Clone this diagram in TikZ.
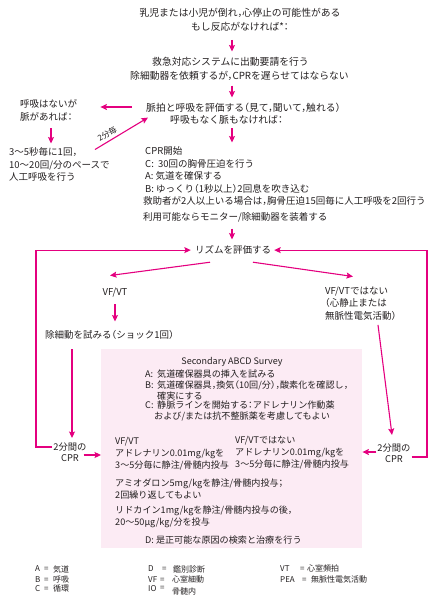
\documentclass[tikz,border=0pt]{standalone}
\usepackage{fontspec}
\setmainfont{Noto Sans CJK JP}[RawFeature=+halt]
\usetikzlibrary{arrows.meta,calc}
\definecolor{mag}{RGB}{228,0,127}
\definecolor{boxpink}{RGB}{252,235,244}
\definecolor{ink}{RGB}{35,31,32}
\begin{document}
\begin{tikzpicture}[x=1pt,y=-1pt,
  every node/.style={inner sep=0pt, text=ink, font=\fontsize{9.5}{12.5}\selectfont},
  arr/.style={draw=mag, line width=1.1pt, -{Stealth[length=6.5pt,width=6pt,inset=1.2pt]}},
  lft/.style={anchor=north west, align=left},
  ctr/.style={anchor=north, align=center},
  boxt/.style={anchor=north west, align=left, font=\fontsize{9.1}{11}\selectfont},
  leg/.style={anchor=base west, font=\fontsize{8}{10}\selectfont},
]
\useasboundingbox (0,0) rectangle (440,600);
% columns and rows for connectors
\coordinate (colA) at (232,0);
\coordinate (colL) at (51,0);
\coordinate (colV) at (115,0);
\coordinate (colLC) at (72,0);
\coordinate (rowP) at (0,107);
\coordinate (rowLC) at (0,455);
\coordinate (rowLCt) at (0,447);
\coordinate (rowRC) at (0,452);
\coordinate (rowRCb) at (0,457);
\coordinate (lx) at (36,350);
\coordinate (rx) at (427,350);

% pink box
\node[fill=boxpink, anchor=north west, minimum width=261pt, minimum height=199pt] (box) at (101,349) {};

% texts
\node[ctr, font=\fontsize{9.8}{14}\selectfont] (top) at (240,8.5) {乳児または小児が倒れ，心停止の可能性がある\\もし反応がなければ*：};
\node[lft, font=\fontsize{9.8}{14}\selectfont] (sys) at (130,57.5) {\hspace*{22pt}救急対応システムに出動要請を行う\\除細動器を依頼するが，CPRを遅らせてはならない};
\node[lft, font=\fontsize{9.8}{12}\selectfont] (pulse) at (146,102.5) {脈拍と呼吸を評価する（見て，聞いて，触れる）\\\hspace*{24pt}呼吸もなく脈もなければ：};
\node[lft] (nobr) at (20,99.5) {呼吸はないが\\脈があれば：};
\node[lft] (rescue) at (9,147.5) {3〜5秒毎に1回，\\10〜20回/分のペースで\\人工呼吸を行う};
\node[lft] (cpr) at (145,146.5) {CPR開始\\C:\ \ 30回の胸骨圧迫を行う\\A: 気道を確保する\\B: ゆっくり（1秒以上）2回息を吹き込む\\\hspace*{-2pt}救助者が2人以上いる場合は，胸骨圧迫15回毎に人工呼吸を2回行う};
\node[lft] (mon) at (143,212.5) {利用可能ならモニター/除細動器を装着する};
\node[ctr] (rhythm) at (233,245.5) {リズムを評価する};
\node[ctr] (vfvt) at (115,287.5) {VF/VT};
\node[lft] (defib) at (45,330.5) {除細動を試みる（ショック1回）};
\node[lft] (notvf) at (325,286.5) {VF/VTではない\\（心静止または\\無脈性電気活動）};
\node[ctr, font=\fontsize{9.3}{11}\selectfont] (lcpr) at (70,443) {2分間の\\CPR};
\node[ctr, font=\fontsize{9.3}{11}\selectfont] (rcpr) at (394,444) {2分間の\\CPR};

% box contents
\node[ctr, font=\fontsize{9}{11}\selectfont] (title) at (232,357.5) {Secondary ABCD Survey};
\node[boxt] (la) at (145,371) {A:};
\node[boxt] (ta) at (157,370) {気道確保器具の挿入を試みる};
\node[boxt] (lb) at (145,382) {B:};
\node[boxt, font=\fontsize{9.1}{10.5}\selectfont] (tb) at (157,381) {気道確保器具，換気（10回/分），酸素化を確認し，\\確実にする};
\node[boxt] (lc) at (145,402) {C:};
\node[boxt, font=\fontsize{9.1}{10.8}\selectfont] (tc) at (157,401) {静脈ラインを開始する：アドレナリン作動薬\\\hspace*{-3pt}および/または抗不整脈薬を考慮してもよい};
\node[boxt, font=\fontsize{9.1}{12}\selectfont] (lcol) at (115,437) {VF/VT\\アドレナリン0.01mg/kgを\\3〜5分毎に静注/骨髄内投与};
\node[boxt, font=\fontsize{9.1}{12}\selectfont] (rcol) at (235,436) {VF/VTではない\\アドレナリン0.01mg/kgを\\3〜5分毎に静注/骨髄内投与};
\node[boxt, font=\fontsize{9.1}{12}\selectfont] (amio) at (115,479) {アミオダロン5mg/kgを静注/骨髄内投与；\\2回繰り返してもよい};
\node[boxt, font=\fontsize{9.1}{12}\selectfont] (lido) at (115,506) {リドカイン1mg/kgを静注/骨髄内投与の後，\\20〜50μg/kg/分を投与};
\node[boxt] (dd) at (145,536) {D: 是正可能な原因の検索と治療を行う};

% legend
\node[leg] (kA) at (35,571.5) {A};
\node[leg] (eA) at (44,571.5) {=};
\node[leg] (mA) at (53,572) {気道};
\node[leg] (kB) at (35,582) {B};
\node[leg] (eB) at (44,582) {=};
\node[leg] (mB) at (53,582) {呼吸};
\node[leg] (kC) at (35,591.5) {C};
\node[leg] (eC) at (44,591.5) {=};
\node[leg] (mC) at (53,591.5) {循環};
\node[leg] (kD) at (148,571.5) {D};
\node[leg] (eD) at (162,571.5) {=};
\node[leg] (mD) at (173,572) {鑑別診断};
\node[leg] (kVF) at (148,582) {VF};
\node[leg] (eVF) at (160,582) {=};
\node[leg] (mVF) at (172,582.5) {心室細動};
\node[leg] (kIO) at (148,591.5) {IO};
\node[leg] (eIO) at (160,590.5) {=};
\node[leg] (mIO) at (172,594) {骨髄内};
\node[leg] (kVT) at (280,571.5) {VT};
\node[leg] (eVT) at (300,571.5) {=};
\node[leg] (mVT) at (307,571.5) {心室頻拍};
\node[leg] (kPEA) at (280,582) {PEA};
\node[leg] (ePEA) at (302,582) {=};
\node[leg] (mPEA) at (311,582) {無脈性電気活動};

% connectors
\draw[arr, shorten <=8pt, shorten >=6pt] (top.south -| colA) -- (sys.north -| colA);
\draw[arr, shorten <=4.5pt, shorten >=5pt] (sys.south -| colA) -- (pulse.north -| colA);
\draw[arr, shorten <=14pt, shorten >=23pt] (pulse.west |- rowP) -- (nobr.east |- rowP);
\draw[arr, shorten <=7pt, shorten >=4pt] (nobr.south -| colL) -- (rescue.north -| colL);
\draw[arr] ([xshift=86pt,yshift=-2pt]rescue.north west) -- node[pos=0.3, above=3pt, sloped, font=\fontsize{8}{9}\selectfont] (every2) {2分毎} ([xshift=2pt,yshift=6.5pt]pulse.south west);
\draw[arr, shorten <=4pt, shorten >=4pt] (pulse.south -| colA) -- (cpr.north -| colA);
\draw[arr, shorten <=6pt, shorten >=6pt] (mon.south -| colA) -- (rhythm.north -| colA);
\draw[arr] ([xshift=-23pt,yshift=-7.5pt]rhythm.south) -- ([xshift=-5pt,yshift=12pt]vfvt.north);
\draw[arr] ([xshift=20pt,yshift=-7.5pt]rhythm.south) -- ([xshift=28pt,yshift=10pt]notvf.north west);
\draw[arr, shorten <=7pt, shorten >=9pt] (vfvt.south -| colV) -- (defib.north -| colV);
\draw[arr, shorten <=9.5pt, shorten >=5pt] (defib.south -| colLC) -- (lcpr.north -| colLC);
\draw[arr, shorten <=-3pt] (lcpr.east |- rowLC) -- (box.west |- rowLC);
\draw[arr, shorten <=1pt, shorten >=4pt] (lcpr.west |- rowLCt) -| (lx) |- (rhythm.west);
\draw[arr] ([xshift=53pt,yshift=-4.5pt]notvf.south west) -- ([xshift=-2pt,yshift=9pt]rcpr.north);
\draw[arr, shorten <=1pt] (rcpr.west |- rowRC) -- (box.east |- rowRC);
\draw[arr, shorten <=1pt, shorten >=3pt] (rcpr.east |- rowRCb) -| (rx) |- (rhythm.east);
\end{tikzpicture}
\end{document}
